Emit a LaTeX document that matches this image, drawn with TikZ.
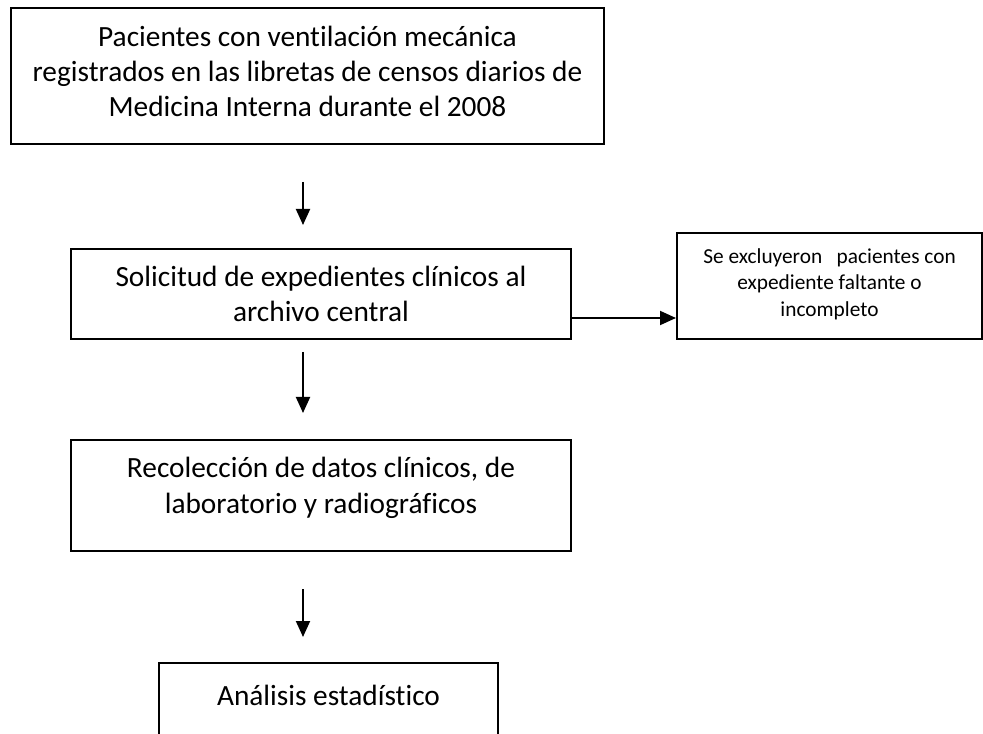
\documentclass[tikz,border=0pt]{standalone}
\usepackage{fontspec}
\setmainfont{Carlito}[Ligatures=NoCommon, RawFeature={-calt}]
\usetikzlibrary{arrows.meta}

\begin{document}
\begin{tikzpicture}[x=0.75pt, y=-0.75pt,
  every node/.style={align=center, font=\fontsize{22}{26.6}\selectfont},
  box/.style={draw, line width=1.5pt, inner sep=0pt, anchor=north},
  flecha/.style={line width=1.4pt, -{Triangle[length=12pt,width=10.5pt]}}]
  \useasboundingbox (0,0) rectangle (983,734);
  \clip (0,0) rectangle (983,734);
  \coordinate (eje) at (303,0);
  \node[box, minimum width=444.75pt, text height=81.75pt, text depth=20.25pt] (registro) at (307.5,7)
    {Pacientes con ventilación mecánica\\ registrados en las libretas de censos diarios de\\ Medicina Interna durante el 2008};
  \node[box, minimum width=375pt, text height=54.75pt, text depth=12.75pt] (solicitud) at (321,248)
    {Solicitud de expedientes clínicos al\\ archivo central};
  \node[box, minimum width=228.75pt, text height=62.6pt, text depth=16.9pt,
        font=\fontsize{16}{19.9}\selectfont] (excluidos) at (829.5,232)
    {Se excluyeron~~~pacientes con\\ expediente faltante o\\ incompleto};
  \node[box, minimum width=375pt, text height=54.75pt, text depth=28.5pt]
    (recoleccion) at (321,439) {Recolección de datos clínicos, de\\ laboratorio y radiográficos};
  \node[box, minimum width=254.25pt, text height=32pt, text depth=60pt]
    (analisis) at (328.5,662) {Análisis estadístico};
  % flechas
  \draw[flecha, shorten <=27.75pt, shorten >=17.25pt] (registro.south -| eje) -- (solicitud.north -| eje);
  \draw[flecha, shorten <=9pt, shorten >=19.5pt] (solicitud.south -| eje) -- (recoleccion.north -| eje);
  \draw[flecha, shorten <=27.75pt, shorten >=18.75pt] (recoleccion.south -| eje) -- (analisis.north -| eje);
  \draw[flecha] ([yshift=-52.5pt]solicitud.north east) -- ([yshift=-52.5pt]solicitud.north east -| excluidos.west);
\end{tikzpicture}
\end{document}
